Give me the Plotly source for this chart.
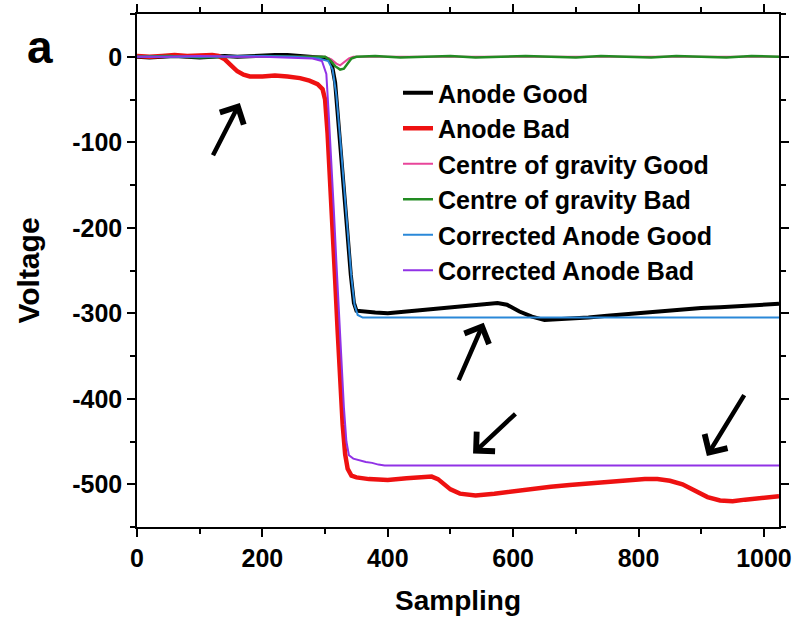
import plotly.graph_objects as go

# ---------------- data ----------------
good_s = [0, 20, 40, 60, 80, 100, 120, 140, 160, 180, 200, 220, 240, 260, 280, 295, 305,
          310, 316, 322, 329, 335, 341, 346, 350, 360, 380, 400, 430, 460, 490, 520, 550,
          575, 590, 610, 630, 650, 670, 700, 720, 750, 780, 810, 840, 870, 900, 930, 960,
          990, 1024]
good_v = [0, -1, 0, 1, 0, -1, 0, 1, 0, 1, 1, 2, 2, 1, 0, -1, -3,
          -6, -30, -80, -140, -200, -255, -288, -297, -298, -299, -300, -298, -296, -294, -292, -290,
          -288, -290, -298, -304, -308, -307, -306, -305, -303, -301, -299, -297, -296, -294, -293, -292,
          -290, -289]

bad_s = [0, 20, 40, 60, 80, 100, 120, 130, 140, 150, 160, 170, 180, 200, 220, 240, 260, 275,
         288, 296, 300, 304, 308, 312, 316, 320, 324, 328, 332, 336, 342, 350, 370, 400, 430,
         455, 470, 480, 490, 500, 515, 540, 570, 600, 630, 660, 690, 720, 750, 780, 810, 830,
         850, 870, 890, 910, 930, 950, 970, 1000, 1024]
bad_v = [1, 0, 1, 2, 1, 2, 2, 1, -3, -10, -17, -21, -23, -23, -22, -23, -25, -28,
         -32, -38, -50, -90, -140, -200, -260, -320, -380, -430, -465, -482, -490, -492, -494, -495, -493,
         -491, -491, -494, -500, -506, -511, -513, -511, -508, -506, -503, -501, -499, -498, -496, -494, -494,
         -496, -500, -508, -515, -519, -520, -518, -516, -514]

cog_good_s = [0, 100, 200, 300, 310, 318, 324, 330, 338, 345, 500, 700, 900, 1024]
cog_good_v = [0, 0, 0, 0, -3, -8, -10, -7, -2, 0, 0, 0, 0, 0]

cog_bad_s = [0, 50, 100, 150, 200, 250, 300, 308, 316, 324, 330, 336, 342, 350, 380, 420,
             460, 500, 540, 580, 620, 660, 700, 740, 780, 820, 860, 900, 940, 980, 1024]
cog_bad_v = [0, 1, -1, 0, 1, 0, 0, -4, -11, -15, -14, -8, -2, 0, 1, -1,
             0, 1, -1, 0, 1, 0, -1, 1, 0, -1, 1, 0, -1, 1, 0]

corr_good_s = [0, 100, 200, 250, 290, 305, 312, 318, 324, 330, 336, 342, 347, 352, 360, 1024]
corr_good_v = [0, 0, 1, 0, -2, -5, -15, -45, -95, -150, -205, -258, -290, -302, -305, -305]

corr_bad_s = [0, 50, 100, 150, 200, 250, 280, 295, 302, 306, 310, 314, 318, 322, 326, 330,
              334, 338, 345, 355, 365, 375, 385, 395, 1024]
corr_bad_v = [0, 0, 1, 0, 0, -1, -2, -5, -20, -70, -120, -180, -240, -300, -360, -410,
              -450, -466, -470, -472, -474, -475, -477, -478, -478]

# arrows: (head sampling, head voltage, tail sampling, tail voltage)
arrows = [(164, -54, 120, -117),
          (553, -311, 512, -380),
          (536, -464, 606, -416),
          (909, -467, 970, -394)]

x_ticks = [0, 200, 400, 600, 800, 1000]
y_ticks = [0, -100, -200, -300, -400, -500]

# ---------------- figure ----------------
FONT = "Liberation Sans, Arial, sans-serif"
fig = go.Figure()

series = [
    ("Anode Good", good_s, good_v, "#000000", 4),
    ("Anode Bad", bad_s, bad_v, "#ee1111", 4.5),
    ("Centre of gravity Good", cog_good_s, cog_good_v, "#e8459a", 2),
    ("Centre of gravity Bad", cog_bad_s, cog_bad_v, "#228b22", 2.5),
    ("Corrected Anode Good", corr_good_s, corr_good_v, "#2a88d8", 2),
    ("Corrected Anode Bad", corr_bad_s, corr_bad_v, "#9132e6", 2),
]
for name, xs, ys, col, w in series:
    fig.add_trace(go.Scatter(x=xs, y=ys, mode="lines", name=name,
                             line=dict(color=col, width=w)))

for hx, hy, tx, ty in arrows:
    fig.add_annotation(x=hx, y=hy, ax=tx, ay=ty, xref="x", yref="y",
                       axref="x", ayref="y", text="", showarrow=True,
                       arrowhead=4, arrowsize=1.15, arrowwidth=4.5,
                       arrowcolor="#000000", standoff=0, startstandoff=0)

L, R, T, B = 137, 13, 14, 94
W, H = 792, 621
pw, ph = W - L - R, H - T - B

fig.add_annotation(text="a", x=(40 - L) / pw, y=(H - B - 47) / ph, xref="paper", yref="paper",
                   showarrow=False, font=dict(family=FONT, size=46, color="#000", weight="bold"),
                   xanchor="center", yanchor="middle")

axis_common = dict(showline=True, linecolor="#000", linewidth=1.5, mirror="allticks",
                   ticks="outside", ticklen=8, tickwidth=1.5, tickcolor="#000",
                   showgrid=False, zeroline=False, automargin=False,
                   tickfont=dict(family=FONT, size=25, color="#000", weight="bold"))

fig.update_xaxes(range=[0, 1024], tickvals=x_ticks, ticktext=[str(v) for v in x_ticks],
                 minor=dict(dtick=100, tick0=0, ticklen=5, tickwidth=1.5, ticks="outside",
                            tickcolor="#000"),
                 title=dict(text="Sampling", standoff=20,
                            font=dict(family=FONT, size=28, color="#000", weight="bold")),
                 **axis_common)
fig.update_yaxes(range=[-550, 50], tickvals=y_ticks, ticktext=[str(v) for v in y_ticks],
                 minor=dict(dtick=50, tick0=0, ticklen=5, tickwidth=1.5, ticks="outside",
                            tickcolor="#000"),
                 title=dict(text="Voltage", standoff=24,
                            font=dict(family=FONT, size=30, color="#000", weight="bold")),
                 **axis_common)

fig.update_layout(
    width=W, height=H, margin=dict(l=L, r=R, t=T, b=B, pad=0, autoexpand=False),
    plot_bgcolor="#fff", paper_bgcolor="#fff",
    showlegend=True,
    legend=dict(x=(398 - L) / pw, y=(H - B - 70) / ph, xanchor="left", yanchor="top",
                bgcolor="rgba(0,0,0,0)", borderwidth=0,
                font=dict(family=FONT, size=25, color="#000", weight="bold")),
)

fig.write_html("out.html")
